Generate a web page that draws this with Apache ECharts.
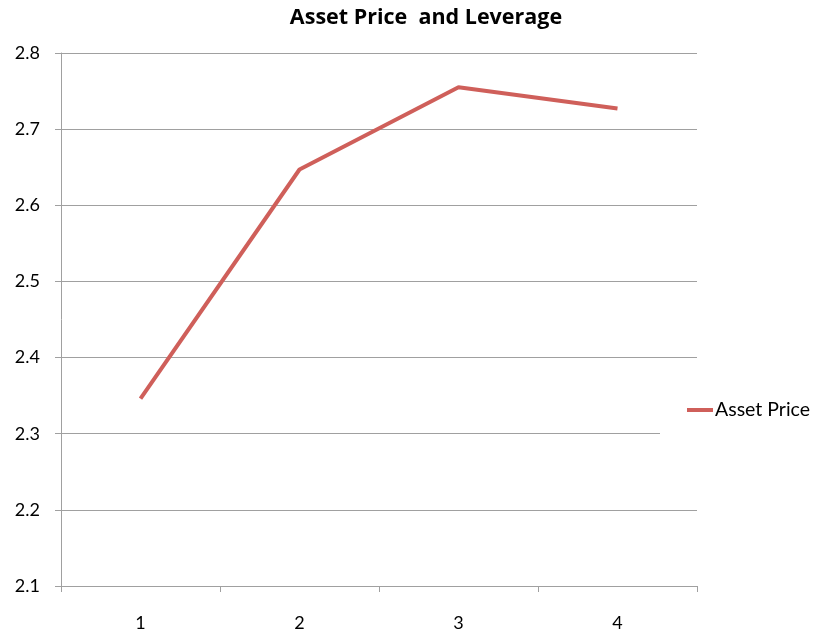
<!DOCTYPE html>
<html>
<head>
<meta charset="utf-8">
<script src="https://cdn.jsdelivr.net/npm/echarts@6/dist/echarts.min.js"></script>
<style>html,body{margin:0;padding:0;background:#fff;}#c{width:814px;height:634px;}</style>
</head>
<body>
<div id="c"></div>
<script>
const categories = ['1', '2', '3', '4'];
const assetPrice = [2.346, 2.647, 2.755, 2.727];
const yTicks = { min: 2.1, max: 2.8, interval: 0.1 };

const chart = echarts.init(document.getElementById('c'));
chart.setOption({
  animation: false,
  backgroundColor: '#ffffff',
  title: {
    text: 'Asset Price  and Leverage',
    left: 421, top: 2, textAlign: 'center',
    textStyle: { fontFamily: 'Open Sans', fontWeight: 'bold', fontSize: 21.5, color: '#000' }
  },
  legend: {
    data: ['Asset Price'],
    left: 660, top: 388,
    orient: 'vertical',
    backgroundColor: '#ffffff',
    padding: [12, 2, 28, 27],
    itemWidth: 26, itemHeight: 4, itemGap: 0,
    icon: 'rect',
    textStyle: { fontFamily: 'Lato', fontSize: 19.5, color: '#000', padding: [0, 0, 0, -3] }
  },
  grid: { left: 61, right: 117, top: 53, bottom: 48, containLabel: false },
  xAxis: {
    type: 'category',
    data: categories,
    boundaryGap: true,
    axisLine: { lineStyle: { color: '#a0a0a0', width: 1 } },
    axisTick: { show: true, length: 6, lineStyle: { color: '#a0a0a0' } },
    axisLabel: { fontFamily: 'Lato', fontSize: 18, color: '#000', margin: 28 }
  },
  yAxis: {
    type: 'value',
    min: yTicks.min, max: yTicks.max, interval: yTicks.interval,
    axisLine: { show: true, lineStyle: { color: '#a0a0a0', width: 1 } },
    axisTick: { show: true, length: 6, lineStyle: { color: '#a0a0a0' } },
    splitLine: { show: true, lineStyle: { color: '#a0a0a0', width: 1 } },
    axisLabel: { fontFamily: 'Lato', fontSize: 18, color: '#000', margin: 21,
      formatter: v => v.toFixed(1) }
  },
  series: [{
    name: 'Asset Price',
    type: 'line',
    data: assetPrice,
    symbol: 'none',
    lineStyle: { color: '#CF5F5A', width: 4 },
    itemStyle: { color: '#CF5F5A' }
  }]
});
</script>
</body>
</html>
